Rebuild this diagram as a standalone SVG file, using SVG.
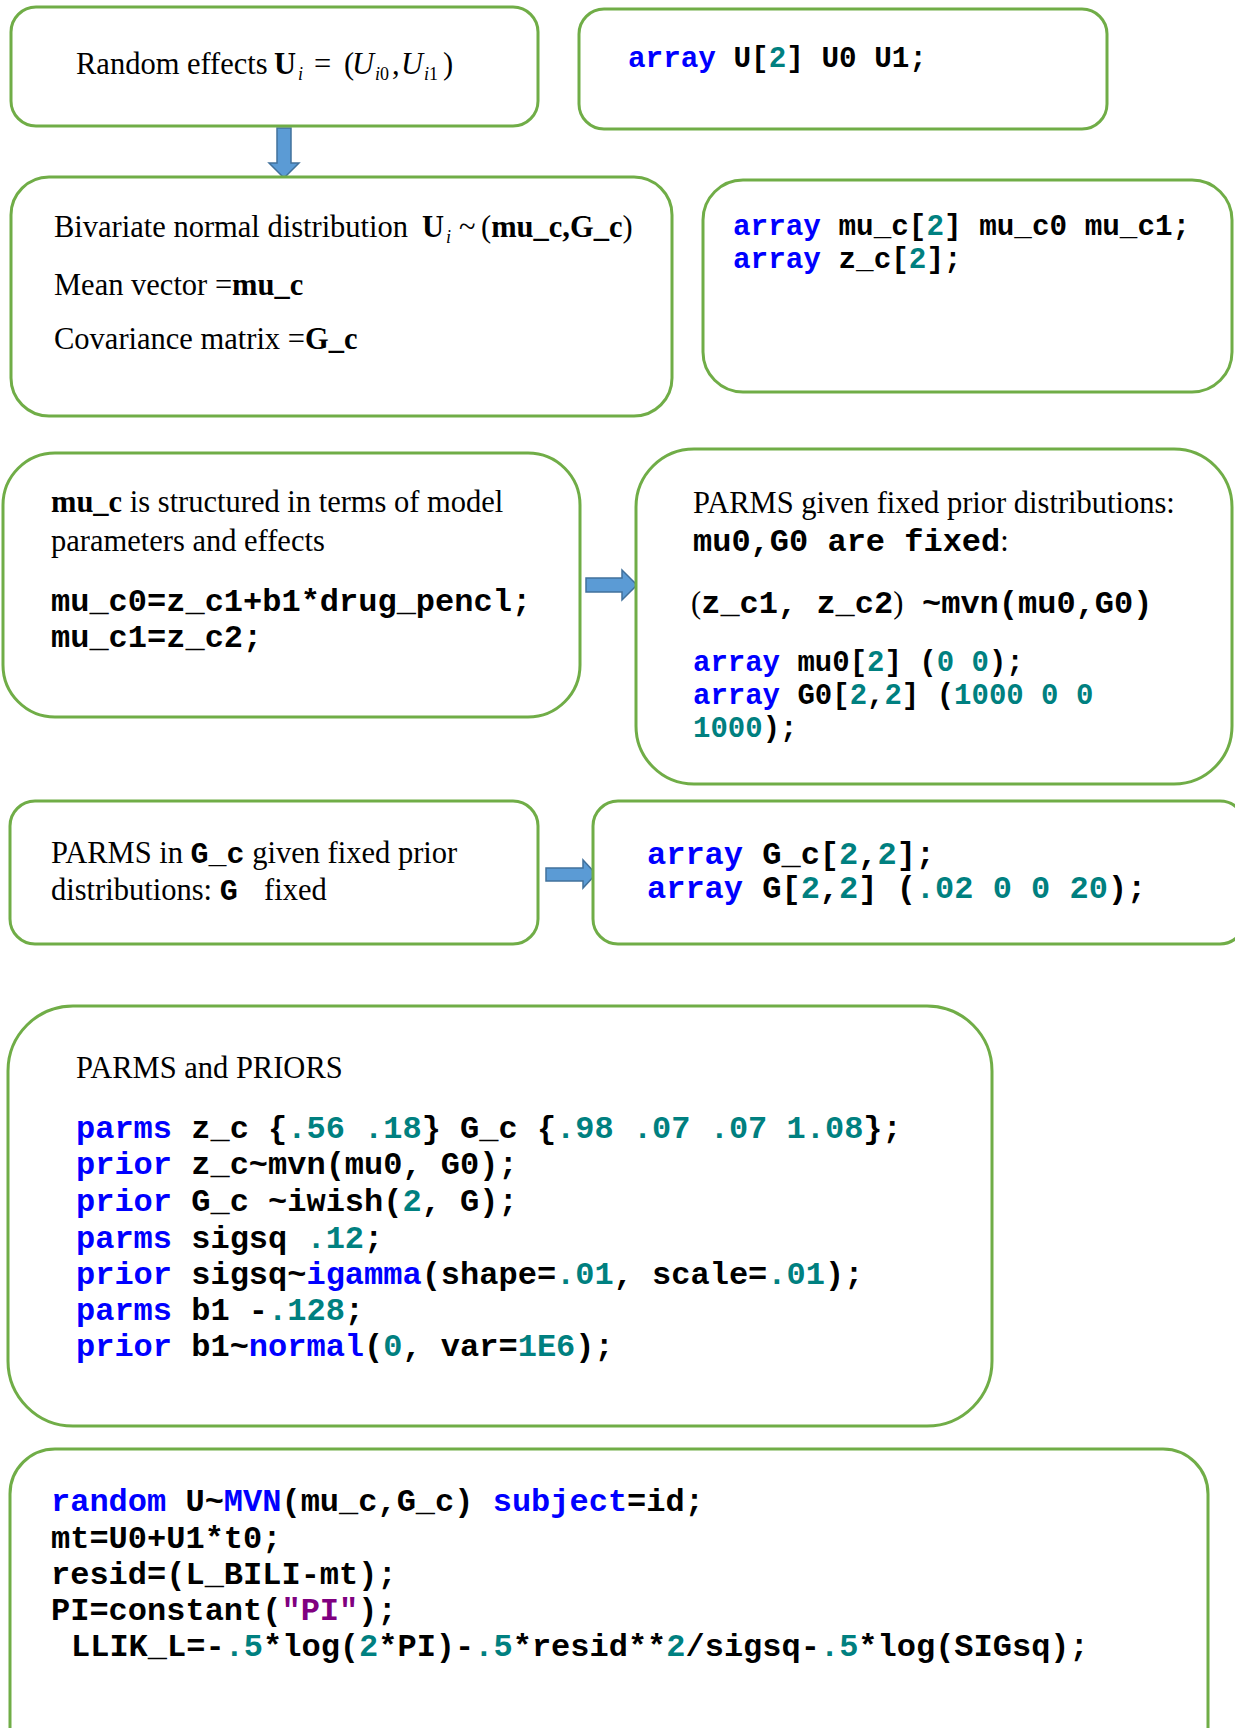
<svg xmlns="http://www.w3.org/2000/svg" width="1235" height="1728" viewBox="0 0 1235 1728">
<style>
.box{fill:#fff;stroke:#70AD47;stroke-width:3}
.arrow{fill:#5B9BD5;stroke:#41719C;stroke-width:1.5}
.serif{font-family:"Liberation Serif","Times New Roman",serif;font-size:30.5px;fill:#000}
.code{font-family:"Liberation Mono","Courier New",monospace;font-weight:bold;fill:#000}
.kw{fill:#0000FF}
.num{fill:#008080}
.str{fill:#800080}
.b{font-weight:bold}
.i{font-style:italic}
.sub{font-size:18px}
</style>
<rect width="1235" height="1728" fill="#fff"/>
<g id="connectors">
<polygon class="arrow" points="277,128 291,128 291,163 299,163 284,178 269,163 277,163"/>
<polygon class="arrow" points="586,578 622,578 622,570 637,585 622,600 622,592 586,592"/>
<polygon class="arrow" points="546,868 583,868 583,860 596,874 583,888 583,881 546,881"/>
</g>
<g id="node-random-effects">
<rect class="box" x="11" y="7" width="527" height="119" rx="25"/>
<text class="serif" x="76" y="74">Random effects</text>
<text class="serif b" x="274" y="74">U</text>
<text class="serif i sub" x="298" y="80">i</text>
<text class="serif" x="314" y="74">=</text>
<text class="serif" x="344" y="74">(</text>
<text class="serif i" x="352" y="74">U</text>
<text class="serif sub" x="375" y="80"><tspan class="i">i</tspan>0</text>
<text class="serif" x="392" y="74">,</text>
<text class="serif i" x="401" y="74">U</text>
<text class="serif sub" x="424" y="80"><tspan class="i">i</tspan>1</text>
<text class="serif" x="443" y="74">)</text>
</g>
<g id="node-array-U">
<rect class="box" x="579" y="9" width="528" height="120" rx="25"/>
<text class="code" font-size="29.3" x="628" y="67"><tspan class="kw">array</tspan> U[<tspan class="num">2</tspan>] U0 U1;</text>
</g>
<g id="node-bivariate">
<rect class="box" x="11" y="177" width="661" height="239" rx="38"/>
<text class="serif" x="54" y="237">Bivariate normal distribution</text>
<text class="serif b" x="422" y="237">U</text>
<text class="serif i sub" x="446" y="243">i</text>
<text class="serif" x="459" y="237">~</text>
<text class="serif" x="481" y="237">(<tspan class="b">mu_c,G_c</tspan>)</text>
<text class="serif" x="54" y="295">Mean vector =<tspan class="b">mu_c</tspan></text>
<text class="serif" x="54" y="349">Covariance matrix =<tspan class="b">G_c</tspan></text>
</g>
<g id="node-array-mu">
<rect class="box" x="703" y="180" width="529" height="212" rx="40"/>
<text class="code" font-size="29.3" x="733" y="235"><tspan class="kw">array</tspan> mu_c[<tspan class="num">2</tspan>] mu_c0 mu_c1;</text>
<text class="code" font-size="29.3" x="733" y="268"><tspan class="kw">array</tspan> z_c[<tspan class="num">2</tspan>];</text>
</g>
<g id="node-mu-structured">
<rect class="box" x="3" y="453" width="577" height="264" rx="52"/>
<text class="serif" x="51" y="512"><tspan class="b">mu_c</tspan> is structured in terms of model</text>
<text class="serif" x="51" y="551">parameters and effects</text>
<text class="code" font-size="32" x="51" y="611">mu_c0=z_c1+b1*drug_pencl;</text>
<text class="code" font-size="32" x="51" y="647">mu_c1=z_c2;</text>
</g>
<g id="node-parms-fixed">
<rect class="box" x="636" y="449" width="596" height="335" rx="58"/>
<text class="serif" x="693" y="513">PARMS given fixed prior distributions:</text>
<text class="serif" x="693" y="551"><tspan class="code" font-size="32">mu0,G0 are fixed</tspan>:</text>
<text class="serif" x="691" y="613">(<tspan class="code" font-size="32">z_c1, z_c2</tspan>)<tspan class="code" font-size="32" x="922">~mvn(mu0,G0)</tspan></text>
<text class="code" font-size="29" x="693" y="671"><tspan class="kw">array</tspan> mu0[<tspan class="num">2</tspan>] (<tspan class="num">0 0</tspan>);</text>
<text class="code" font-size="29" x="693" y="704"><tspan class="kw">array</tspan> G0[<tspan class="num">2</tspan>,<tspan class="num">2</tspan>] (<tspan class="num">1000 0 0</tspan></text>
<text class="code" font-size="29" x="693" y="737"><tspan class="num">1000</tspan>);</text>
</g>
<g id="node-parms-G">
<rect class="box" x="10" y="801" width="528" height="143" rx="25"/>
<text class="serif" x="51" y="863">PARMS in <tspan class="code" font-size="30">G_c</tspan> given fixed prior</text>
<text class="serif" x="51" y="900">distributions: <tspan class="code" font-size="30">G</tspan><tspan x="264">fixed</tspan></text>
</g>
<g id="node-array-G">
<rect class="box" x="593" y="801" width="652" height="143" rx="25"/>
<text class="code" font-size="32" x="647" y="864"><tspan class="kw">array</tspan> G_c[<tspan class="num">2</tspan>,<tspan class="num">2</tspan>];</text>
<text class="code" font-size="32" x="647" y="898"><tspan class="kw">array</tspan> G[<tspan class="num">2</tspan>,<tspan class="num">2</tspan>] (<tspan class="num">.02 0 0 20</tspan>);</text>
</g>
<g id="node-parms-priors">
<rect class="box" x="8" y="1006" width="984" height="420" rx="65"/>
<text class="serif" x="76" y="1078">PARMS and PRIORS</text>
<text class="code" font-size="32" x="76" y="1138"><tspan class="kw">parms</tspan> z_c {<tspan class="num">.56 .18</tspan>} G_c {<tspan class="num">.98 .07 .07 1.08</tspan>};</text>
<text class="code" font-size="32" x="76" y="1174"><tspan class="kw">prior</tspan> z_c~mvn(mu0, G0);</text>
<text class="code" font-size="32" x="76" y="1211"><tspan class="kw">prior</tspan> G_c ~iwish(<tspan class="num">2</tspan>, G);</text>
<text class="code" font-size="32" x="76" y="1248"><tspan class="kw">parms</tspan> sigsq <tspan class="num">.12</tspan>;</text>
<text class="code" font-size="32" x="76" y="1284"><tspan class="kw">prior</tspan> sigsq~<tspan class="kw">igamma</tspan>(shape=<tspan class="num">.01</tspan>, scale=<tspan class="num">.01</tspan>);</text>
<text class="code" font-size="32" x="76" y="1320"><tspan class="kw">parms</tspan> b1 -<tspan class="num">.128</tspan>;</text>
<text class="code" font-size="32" x="76" y="1356"><tspan class="kw">prior</tspan> b1~<tspan class="kw">normal</tspan>(<tspan class="num">0</tspan>, var=<tspan class="num">1E6</tspan>);</text>
</g>
<g id="node-random-code">
<rect class="box" x="10" y="1449" width="1198" height="330" rx="45"/>
<text class="code" font-size="32" x="51" y="1511"><tspan class="kw">random</tspan> U~<tspan class="kw">MVN</tspan>(mu_c,G_c) <tspan class="kw">subject</tspan>=id;</text>
<text class="code" font-size="32" x="51" y="1548">mt=U0+U1*t0;</text>
<text class="code" font-size="32" x="51" y="1584">resid=(L_BILI-mt);</text>
<text class="code" font-size="32" x="51" y="1620">PI=constant(<tspan class="str">"PI"</tspan>);</text>
<text class="code" font-size="32" x="71" y="1656">LLIK_L=-<tspan class="num">.5</tspan>*log(<tspan class="num">2</tspan>*PI)-<tspan class="num">.5</tspan>*resid**<tspan class="num">2</tspan>/sigsq-<tspan class="num">.5</tspan>*log(SIGsq);</text>
</g>
</svg>
